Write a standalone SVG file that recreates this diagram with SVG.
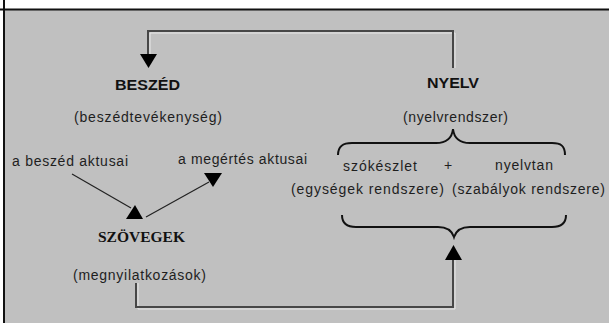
<svg xmlns="http://www.w3.org/2000/svg" width="609" height="323" viewBox="0 0 609 323">
<style>
.t{font-family:"Liberation Sans",Arial,sans-serif;font-size:14px;fill:#1e1e1e}
.b{font-family:"Liberation Sans",Arial,sans-serif;font-size:14px;font-weight:bold;fill:#111}
.s{font-family:"Liberation Serif","Times New Roman",serif;font-size:15px;font-weight:bold;fill:#111}
.c{fill:none;stroke:#474747;stroke-width:2}
.h{fill:none;stroke:#e8e8e8;stroke-width:1}
.a{fill:none;stroke:#222;stroke-width:1.2}
.br{fill:none;stroke:#111;stroke-width:2}
.ah{fill:#000}
</style>
<rect x="0" y="0" width="609" height="323" fill="#ffffff"/>
<rect x="5" y="10" width="604" height="313" fill="#c0c0c0"/>
<line x1="0" y1="9.5" x2="609" y2="9.5" stroke="#111" stroke-width="2"/>
<line x1="4" y1="0" x2="4" y2="323" stroke="#111" stroke-width="2"/>

<g id="connectors">
  <polyline class="h" points="455,68 455,33 150,33 150,55"/>
  <polyline class="c" points="453,68 453,31 148,31 148,56"/>
  <polygon class="ah" points="140,54 157,54 148.5,68"/>
  <polyline class="h" points="138,283 138,309 455,309 455,260"/>
  <polyline class="c" points="136,283 136,307 453,307 453,258"/>
  <polygon class="ah" points="445,260 462,260 453.5,245"/>
  <line class="a" x1="72" y1="174" x2="131" y2="208"/>
  <polygon class="ah" points="126,219 143,219 135,205"/>
  <line class="a" x1="146" y1="217" x2="209" y2="182"/>
  <polygon class="ah" points="204,173 222,173 213,187"/>
  <path class="br" d="M338,155 C338,146 343,143 352,143 L436,143 C446,143 452,138 453,129 C454,138 460,143 470,143 L552,143 C561,143 565,146 565,155"/>
  <path class="br" d="M342,215 C342,223 347,227 356,227 L438,227 C447,227 452,231 454,237 C456,231 461,227 470,227 L552,227 C561,227 566,223 566,215"/>
</g>

<g id="beszed">
  <text class="b" x="115" y="90" textLength="65" lengthAdjust="spacingAndGlyphs">BESZÉD</text>
  <text class="t" x="74" y="122" textLength="148" lengthAdjust="spacing">(beszédtevékenység)</text>
</g>
<g id="nyelv">
  <text class="b" x="427" y="88" textLength="52" lengthAdjust="spacingAndGlyphs">NYELV</text>
  <text class="t" x="403" y="122" textLength="105" lengthAdjust="spacing">(nyelvrendszer)</text>
</g>
<g id="beszed-aktusai">
  <text class="t" x="12" y="166" textLength="116" lengthAdjust="spacing">a beszéd aktusai</text>
</g>
<g id="megertes-aktusai">
  <text class="t" x="178" y="164" textLength="129" lengthAdjust="spacing">a megértés aktusai</text>
</g>
<g id="szokeszlet">
  <text class="t" x="343" y="171" textLength="74" lengthAdjust="spacing">szókészlet</text>
  <text class="t" x="291" y="194" textLength="153" lengthAdjust="spacing">(egységek rendszere)</text>
</g>
<g id="plus">
  <text class="t" x="448" y="170" text-anchor="middle">+</text>
</g>
<g id="nyelvtan">
  <text class="t" x="495" y="170" textLength="58" lengthAdjust="spacing">nyelvtan</text>
  <text class="t" x="452" y="194" textLength="153" lengthAdjust="spacing">(szabályok rendszere)</text>
</g>
<g id="szovegek">
  <text class="s" x="98" y="242" textLength="87" lengthAdjust="spacingAndGlyphs">SZÖVEGEK</text>
  <text class="t" x="73" y="280" textLength="133" lengthAdjust="spacing">(megnyilatkozások)</text>
</g>
</svg>
